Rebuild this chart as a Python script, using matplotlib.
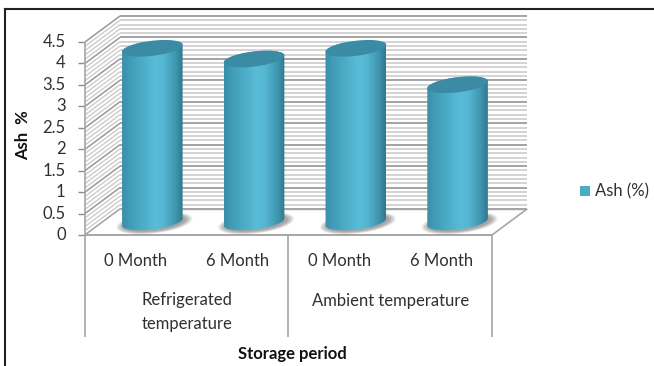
import numpy as np
import matplotlib.pyplot as plt
from matplotlib.patches import Polygon, Rectangle, PathPatch
from matplotlib.path import Path

plt.rcParams['font.family'] = ['Lato', 'DejaVu Sans']

# Data
months = ['0 Month', '6 Month', '0 Month', '6 Month']
groups = ['Refrigerated\ntemperature', 'Ambient temperature']
ash = [4.05, 3.8, 4.05, 3.2]
ticks = [0, 0.5, 1, 1.5, 2, 2.5, 3, 3.5, 4, 4.5]
tick_labels = ['0', '0.5', '1', '1.5', '2', '2.5', '3', '3.5', '4', '4.5']

W, H = 654, 366
fig = plt.figure(figsize=(W / 100, H / 100), dpi=100)
fig.patch.set_facecolor('white')

# Front plane of the 3D box: category units across, value units up
ax = fig.add_axes([85 / W, 1 - 235 / H, 407 / W, 193 / H])
ax.set_xlim(0, 4)
ax.set_ylim(0, 4.5)
ax.axis('off')

ux = 407 / 4    # pixels per category
uy = 193 / 4.5  # pixels per value unit
dx = 35 / ux    # depth offset of the back wall
dy = 26 / uy

text_col = '#303030'
fs = 12


def line(xs, ys, color='#a6a6a6', lw=1.0, z=2):
    ax.plot(xs, ys, color=color, lw=lw, zorder=z, clip_on=False, solid_capstyle='butt')


# Back wall and side wall stripes
for v in np.arange(0, 4.5001, 0.1):
    line([dx, 4 + dx], [v + dy, v + dy], '#d0d0d0', 1.3)
    line([0, dx], [v, v + dy], '#cccccc', 1.0)
# Major gridlines and value ticks
for v, lab in zip(ticks, tick_labels):
    line([dx, 4 + dx], [v + dy, v + dy], '#a0a0a0', 1.3)
    line([0, dx], [v, v + dy], '#9a9a9a', 1.0)
    line([-0.07, 0], [v, v], '#8c8c8c', 1.0)
    ax.text(-0.19, v, lab, ha='right', va='center', fontsize=fs, color=text_col, clip_on=False)

# Floor and box edges
line([0, 0], [0, 4.5], '#a6a6a6', 1.2)
ax.add_patch(Polygon([(0, 0), (4, 0), (4 + dx, dy), (dx, dy)], closed=True,
                     facecolor='white', edgecolor='none', zorder=2.5, clip_on=False))
line([dx, 4 + dx], [dy, dy], '#a6a6a6', 1.0, 2.6)
line([4, 4 + dx], [0, dy], '#a6a6a6', 1.2, 2.6)
line([0, dx], [0, dy], '#a6a6a6', 1.0, 2.6)
line([0, 4], [0, 0], '#a6a6a6', 1.4, 2.6)

TILT = np.radians(7.0)


def tilted_arc(cx, cy, a_px, b_px, t):
    # Points on an ellipse sized in pixels around a data-space centre
    px = a_px * np.cos(t) * np.cos(TILT) - b_px * np.sin(t) * np.sin(TILT)
    py = a_px * np.cos(t) * np.sin(TILT) + b_px * np.sin(t) * np.cos(TILT)
    return np.column_stack([cx + px / ux, cy + py / uy])


# Horizontal shading across a cylinder: dark edges, light centre
stops = np.array([0.0, 0.1, 0.55, 0.68, 0.9, 1.0])
cols = np.array([[0x3a, 0x8f, 0xa8], [0x3f, 0x9a, 0xb4], [0x59, 0xbd, 0xd9],
                 [0x55, 0xb7, 0xd2], [0x3d, 0x92, 0xab], [0x2f, 0x78, 0x8d]]) / 255
xx = np.linspace(0, 1, 128)
shade = np.stack([np.interp(xx, stops, cols[:, i]) for i in range(3)], axis=-1)[None, :, :]

half = 30.5  # cylinder half width in pixels
b_px = 7.5
full = np.linspace(0, 2 * np.pi, 120)
for i, val in enumerate(ash):
    cx = i + 0.5 + dx * 0.47
    base = dy * 0.5

    # Soft floor shadow from stacked translucent ellipses
    for k in range(16):
        grow = 1 - k / 16
        ax.add_patch(Polygon(tilted_arc(cx + 2 / ux, base - 1 / uy, half + 8 * grow, b_px + 3 * grow, full),
                             closed=True, facecolor='#505050', edgecolor='none', alpha=0.04,
                             zorder=3, clip_on=False))

    # Cylinder body clipped to the two end ellipses
    lower = tilted_arc(cx, base, half, b_px, np.linspace(np.pi, 2 * np.pi, 60))
    upper = tilted_arc(cx, val + base, half, b_px, np.linspace(0, np.pi, 60))
    outline = np.vstack([lower, upper, lower[:1]])
    body = PathPatch(Path(outline), facecolor='none', edgecolor='none', transform=ax.transData)
    ax.add_patch(body)
    im = ax.imshow(shade, extent=[cx - half / ux, cx + half / ux, 0, 4.9], aspect='auto',
                   zorder=4, interpolation='bilinear')
    im.set_clip_path(body)

    # Darker top cap
    ax.add_patch(Polygon(tilted_arc(cx, val + base, half, b_px, full), closed=True,
                         facecolor='#3a8ba3', edgecolor='none', zorder=5, clip_on=False))

ax.set_xlim(0, 4)
ax.set_ylim(0, 4.5)

# Multi-level category axis
for i, m in enumerate(months):
    ax.text(i + 0.5, -0.6, m, ha='center', va='center', fontsize=fs, color=text_col, clip_on=False)
ax.text(1, -1.79, groups[0], ha='center', va='center', fontsize=fs, color=text_col, clip_on=False,
        linespacing=1.6)
ax.text(3, -1.54, groups[1], ha='center', va='center', fontsize=fs, color=text_col, clip_on=False)
for x in [0, 2, 4]:
    line([x, x], [0, -2.38], '#a6a6a6', 1.2)

# Axis titles
fig.text(23 / W, 1 - 135 / H, 'Ash  %', rotation=90, ha='center', va='center', fontsize=fs,
         fontweight='bold', color='#111111')
fig.text(292 / W, 1 - 354 / H, 'Storage period', ha='center', va='center', fontsize=fs,
         fontweight='bold', color='#111111')

# Legend
fig.patches.append(Rectangle((580 / W, 1 - 196 / H), 10 / W, 10 / H, transform=fig.transFigure,
                             facecolor='#4bacc6', edgecolor='none'))
fig.text(595 / W, 1 - 191 / H, 'Ash (%)', ha='left', va='center', fontsize=fs, color=text_col)

# Outer frame, open towards the right and bottom edges
fig.add_artist(plt.Line2D([5 / W, 5 / W], [0, 1 - 9 / H], color='#222222', lw=1.5))
fig.add_artist(plt.Line2D([5 / W, 1], [1 - 9 / H, 1 - 9 / H], color='#222222', lw=1.5))

fig.savefig('out.png', dpi=100)
